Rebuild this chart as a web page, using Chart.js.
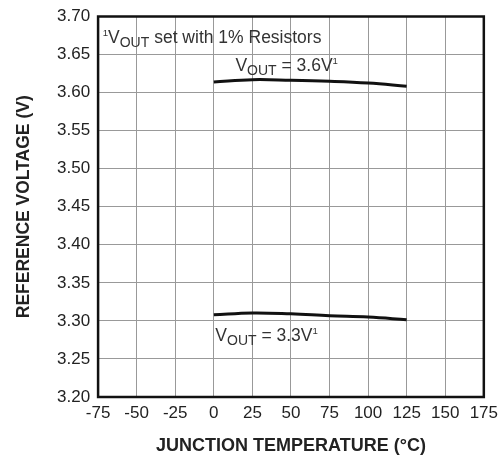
<!DOCTYPE html>
<html>
<head>
<meta charset="utf-8">
<script src="https://cdn.jsdelivr.net/npm/chart.js@4/dist/chart.umd.min.js"></script>
<style>
  html, body { margin: 0; padding: 0; background: #fff; }
  #wrap { width: 504px; height: 461px; }
</style>
</head>
<body>
<div id="wrap"><canvas id="chart"></canvas></div>
<script>
// junction temperature (°C) sample points
const temps = [0, 25, 50, 75, 100, 125];
// output voltage readings for each setting
const vout36 = [3.614, 3.617, 3.6162, 3.6148, 3.6125, 3.6085];
const vout33 = [3.308, 3.3105, 3.3093, 3.3068, 3.305, 3.3015];

const xMin = -75, xMax = 175, xStep = 25;
const yMin = 3.20, yMax = 3.70, yStep = 0.05;

const FONT = '"Liberation Sans", Arial, Helvetica, sans-serif';

function toPoints(xs, ys) {
    return xs.map((x, i) => ({ x: x, y: ys[i] }));
}

// draws pieces of text: {t, sub, sup}
function drawRich(ctx, x, y, parts, size) {
    let cx = x;
    parts.forEach(p => {
        let fs = size, dy = 0;
        if (p.sub) { fs = size * 0.8; dy = size * 0.2; }
        if (p.sup) { fs = size * 0.55; dy = -size * 0.42; }
        ctx.font = fs + 'px ' + FONT;
        ctx.fillText(p.t, cx, y + dy);
        cx += ctx.measureText(p.t).width;
    });
}

const notes = [
    { x: -72, y: 3.665, parts: [{ t: '1', sup: true }, { t: 'V' }, { t: 'OUT', sub: true }, { t: ' set with 1% Resistors' }] },
    { x: 14, y: 3.628, parts: [{ t: 'V' }, { t: 'OUT', sub: true }, { t: ' = 3.6V' }, { t: '1', sup: true }] },
    { x: 1, y: 3.273, parts: [{ t: 'V' }, { t: 'OUT', sub: true }, { t: ' = 3.3V' }, { t: '1', sup: true }] }
];

const framePlugin = {
    id: 'frame',
    afterDatasetsDraw(chart) {
        const { ctx, chartArea: a, scales } = chart;
        ctx.save();
        ctx.fillStyle = '#333';
        ctx.textBaseline = 'alphabetic';
        notes.forEach(n => {
            drawRich(ctx, scales.x.getPixelForValue(n.x), scales.y.getPixelForValue(n.y), n.parts, 17.5);
        });
        ctx.strokeStyle = '#111';
        ctx.lineWidth = 2.5;
        ctx.strokeRect(a.left, a.top, a.right - a.left, a.bottom - a.top);
        ctx.restore();
    }
};

new Chart(document.getElementById('chart'), {
    type: 'scatter',
    data: {
        datasets: [
            { label: 'VOUT = 3.6V', data: toPoints(temps, vout36) },
            { label: 'VOUT = 3.3V', data: toPoints(temps, vout33) }
        ]
    },
    options: {
        responsive: true,
        maintainAspectRatio: false,
        animation: false,
        showLine: true,
        elements: {
            line: { borderColor: '#111', borderWidth: 3, tension: 0.4 },
            point: { radius: 0 }
        },
        layout: { padding: { left: 10, right: 0, top: 4, bottom: 0 } },
        scales: {
            x: {
                type: 'linear',
                min: xMin, max: xMax,
                ticks: { stepSize: xStep, color: '#222', font: { family: FONT, size: 17 }, padding: 6, maxRotation: 0 },
                grid: { color: '#999', lineWidth: 1, drawTicks: false },
                border: { display: false },
                title: { display: true, text: 'JUNCTION TEMPERATURE (°C)', color: '#222', font: { family: FONT, size: 18, weight: 'bold' }, padding: { top: 6 } }
            },
            y: {
                min: yMin, max: yMax,
                ticks: { stepSize: yStep, color: '#222', font: { family: FONT, size: 17, lineHeight: 1 }, padding: 8, callback: v => v.toFixed(2) },
                grid: { color: '#999', lineWidth: 1, drawTicks: false },
                border: { display: false },
                title: { display: true, text: 'REFERENCE VOLTAGE (V)', color: '#222', font: { family: FONT, size: 17.5, weight: 'bold' }, padding: { bottom: 14 } }
            }
        },
        plugins: {
            legend: { display: false },
            tooltip: { enabled: false }
        }
    },
    plugins: [framePlugin]
});
</script>
</body>
</html>
